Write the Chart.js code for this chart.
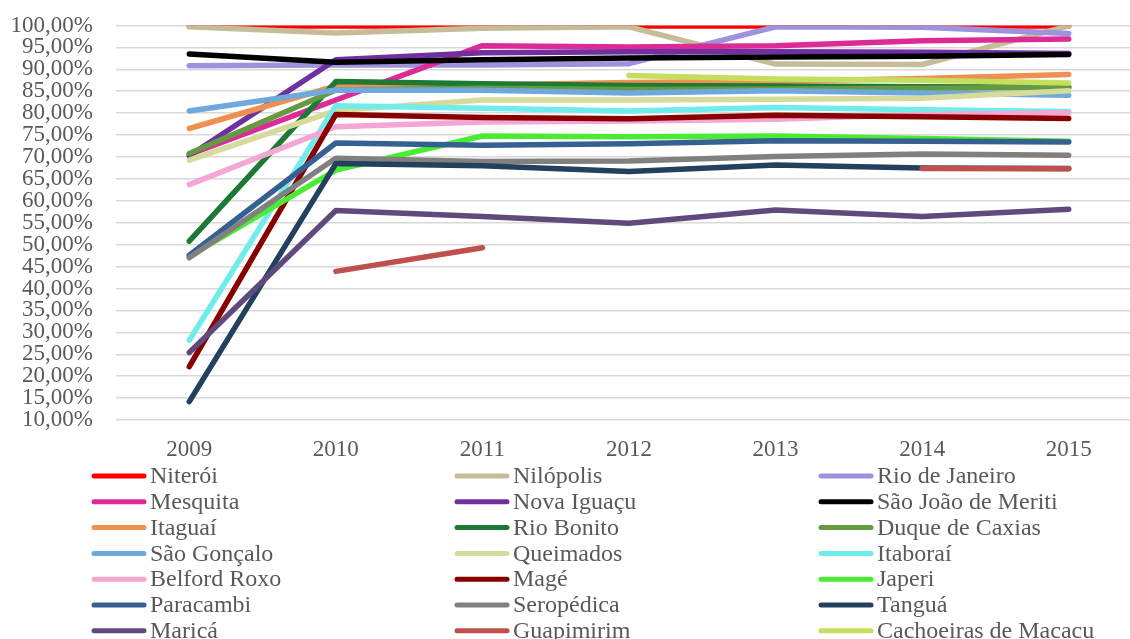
<!DOCTYPE html>
<html>
<head>
<meta charset="utf-8">
<script src="https://cdn.jsdelivr.net/npm/chart.js@4"></script>
<style>
  html, body { margin: 0; padding: 0; background: #fff; overflow: hidden; }
  #wrap { width: 1130px; height: 639px; overflow: hidden; position: relative; }
  canvas { display: block; }
</style>
</head>
<body>
<div id="wrap"><canvas id="chart" width="1146" height="639"></canvas></div>
<script>
// years on the x axis
const years = ["2009", "2010", "2011", "2012", "2013", "2014", "2015"];

// one array per município, values in %
const niteroi = [99.9, 99.9, 99.9, 99.9, 99.9, 99.9, 99.9];
const nilopolis = [99.7, 98.3, 99.4, 99.7, 91.2, 91.1, 99.9];
const rioDeJaneiro = [90.8, 91.0, 91.0, 91.3, 99.7, 99.6, 98.2];
const mesquita = [70.6, 83.0, 95.4, 95.1, 95.4, 96.5, 96.9];
const novaIguacu = [70.3, 92.2, 93.8, 94.0, 94.0, 93.9, 93.6];
const saoJoao = [93.5, 91.6, 92.2, 92.6, 92.8, 93.0, 93.4];
const itaguai = [76.5, 86.2, 86.4, 87.0, 87.3, 87.9, 88.8];
const rioBonito = [50.8, 87.2, 86.7, 86.3, 86.2, 86.0, 85.9];
const duqueDeCaxias = [70.8, 85.3, 85.7, 85.4, 85.5, 85.7, 85.9];
const saoGoncalo = [80.5, 85.3, 85.2, 84.6, 85.1, 84.6, 84.1];
const queimados = [69.3, 80.6, 83.0, 83.0, 83.2, 83.4, 85.1];
const itaborai = [28.2, 81.7, 81.1, 80.5, 81.3, 80.8, 80.4];
const belfordRoxo = [63.7, 76.9, 78.0, 78.2, 78.6, 79.7, 80.1];
const mage = [22.2, 79.7, 79.0, 78.7, 79.5, 79.2, 78.8];
const japeri = [47.3, 67.0, 74.8, 74.6, 74.8, 74.2, 73.6];
const paracambi = [47.6, 73.2, 72.7, 73.0, 73.7, 73.6, 73.4];
const seropedica = [47.0, 69.7, 69.0, 69.1, 70.1, 70.7, 70.4];
const tangua = [14.2, 68.5, 68.0, 66.7, 68.2, 67.5, 67.4];
const marica = [25.4, 57.8, 56.4, 54.9, 57.9, 56.4, 58.1];
const guapimirim = [null, 43.9, 49.3, null, null, 67.4, 67.3];
const cachoeiras = [null, null, null, 88.6, 87.8, 87.5, 86.9];

const names = ["Niterói", "Nilópolis", "Rio de Janeiro", "Mesquita", "Nova Iguaçu",
  "São João de Meriti", "Itaguaí", "Rio Bonito", "Duque de Caxias", "São Gonçalo",
  "Queimados", "Itaboraí", "Belford Roxo", "Magé", "Japeri", "Paracambi",
  "Seropédica", "Tanguá", "Maricá", "Guapimirim", "Cachoeiras de Macacu"];

const series = [niteroi, nilopolis, rioDeJaneiro, mesquita, novaIguacu, saoJoao,
  itaguai, rioBonito, duqueDeCaxias, saoGoncalo, queimados, itaborai, belfordRoxo,
  mage, japeri, paracambi, seropedica, tangua, marica, guapimirim, cachoeiras];

const colors = ["#ff0000", "#c4bd97", "#9d92db", "#dc2a97", "#7030a0", "#000000",
  "#ef9050", "#1c7a35", "#649a41", "#6fa8dc", "#d6db9b", "#70ecec", "#f4a6d4",
  "#880000", "#4aeb33", "#376092", "#808080", "#24405f", "#604a7b", "#c0504d",
  "#c4de5e"];

const textColor = "#595959";
const serif = "'Liberation Serif', 'Times New Roman', serif";

// legend under the plot, 3 columns, drawn by hand
const legendCols = [91, 454, 818];
const legendTop = 476;
const legendRow = 25.8;

const gridLegend = {
  id: "gridLegend",
  afterDraw(chart) {
    const ctx = chart.ctx;
    ctx.save();
    ctx.font = "24px " + serif;
    ctx.textBaseline = "middle";
    chart.data.datasets.forEach((ds, i) => {
      const x = legendCols[i % 3];
      const y = legendTop + Math.floor(i / 3) * legendRow;
      ctx.strokeStyle = ds.borderColor;
      ctx.lineWidth = 5;
      ctx.lineCap = "round";
      ctx.beginPath();
      ctx.moveTo(x + 3, y);
      ctx.lineTo(x + 53, y);
      ctx.stroke();
      ctx.fillStyle = textColor;
      ctx.fillText(ds.label, x + 59, y + 1);
    });
    ctx.restore();
  }
};

const datasets = names.map((name, i) => ({
  label: name,
  data: series[i],
  borderColor: colors[i],
  backgroundColor: colors[i],
  borderWidth: 5.5,
  borderCapStyle: "round",
  borderJoinStyle: "round",
  pointRadius: 0,
  pointHoverRadius: 0,
  tension: 0,
  spanGaps: false,
  order: names.length - i
}));

new Chart(document.getElementById("chart"), {
  type: "line",
  data: { labels: years, datasets: datasets },
  plugins: [gridLegend],
  options: {
    responsive: false,
    animation: false,
    layout: { padding: { top: 25.5, right: 4, bottom: 175, left: 0 } },
    plugins: {
      legend: { display: false },
      tooltip: { enabled: false }
    },
    scales: {
      x: {
        offset: true,
        grid: { display: false, drawTicks: false },
        border: { display: false },
        ticks: { color: textColor, font: { family: serif, size: 23 }, padding: 16, maxRotation: 0 },
        afterFit(axis) { axis.height = 44; }
      },
      y: {
        min: 10,
        max: 100,
        grid: { color: "#d9d9d9", lineWidth: 1.5, drawTicks: false },
        border: { display: false },
        ticks: {
          stepSize: 5,
          autoSkip: false,
          color: textColor,
          font: { family: serif, size: 23 },
          padding: 23,
          callback: (v) => v.toFixed(2).replace(".", ",") + "%"
        },
        afterFit(axis) {
          axis.width = 116;
          axis.paddingTop = 0;
          axis.paddingBottom = 0;
        }
      }
    }
  }
});
</script>
</body>
</html>
